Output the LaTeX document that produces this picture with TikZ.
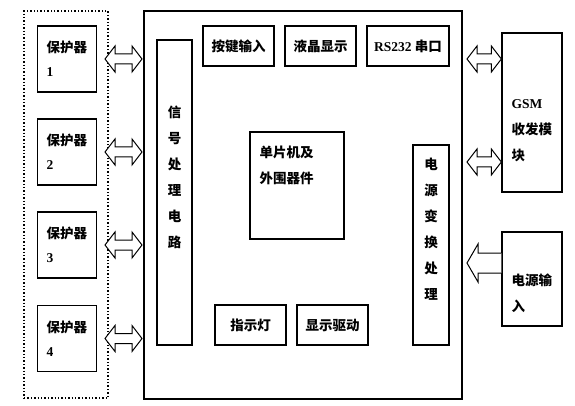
\documentclass[tikz,border=0pt]{standalone}
\usepackage{fontspec}
\setmainfont{Liberation Serif}
\newfontfamily\cjk{Noto Sans CJK SC}
\usetikzlibrary{calc, positioning}

% hollow double-headed arrow between two named points on one level
\newcommand\dblarrow[2]{%
  \draw[hollow] (#1) -- ++(10,-13) -- ++(0,8) -- ($(#2)+(-10,-5)$) -- ++(0,-8)
    -- (#2) -- ++(-10,13) -- ++(0,-8) -- ($(#1)+(10,5)$) -- ++(0,8) -- cycle;}

\begin{document}
\begin{tikzpicture}[
  x=1pt, y=-1pt,
  box/.style={draw, line width=1.3pt, inner sep=0pt, font=\fontsize{13.5pt}{15pt}\selectfont\bfseries\cjk},
  txt/.style={inner sep=0pt, align=left, font=\fontsize{13.5pt}{26pt}\selectfont\bfseries\cjk},
  grp/.style={draw, dotted, line width=1.4pt},
  hollow/.style={draw, line width=1pt, fill=white, line join=miter}
]
  \useasboundingbox (0,0) rectangle (575,406);

  % protector group
  \node[grp, minimum width=84, minimum height=387] (grp) at (66,204.5) {};
  \foreach \i/\y in {1/59,2/152,3/245,4/338.5} {
    \node[box, minimum width=59, minimum height=66, text width=41, align=left] (p\i) at (67,\y)
      {保护器\\[9pt]{\rmfamily\i}};
    \coordinate (la\i) at (105,\y);
    \coordinate (ra\i) at (142,\y);
    \dblarrow{la\i}{ra\i}
  }

  % main board
  \node[box, line width=1.9pt, minimum width=318, minimum height=388] (main) at (303,205) {};
  \node[box, minimum width=35, minimum height=305] (sig) at (174.5,192.5) {};
  \node[txt, align=center, below=66pt of sig.north] (sigtxt) {信\\号\\处\\理\\电\\路};

  \node[box, minimum width=71, minimum height=40] (key) at (238.5,46) {按键输入};
  \node[box, minimum width=71, minimum height=40] (lcd) at (320.5,46) {液晶显示};
  \node[box, minimum width=82, minimum height=40] (rs) at (408,46) {{\rmfamily RS232} 串口};

  \node[box, minimum width=94, minimum height=107] (mcu) at (297,185.5) {};
  \node[txt, anchor=north west] (mcutxt) at ($(mcu.north west)+(10,14)$) {单片机及\\外围器件};

  \node[box, minimum width=36, minimum height=200] (pwr) at (431,245) {};
  \node[txt, align=center, below=14pt of pwr.north] (pwrtxt) {电\\源\\变\\换\\处\\理};

  \node[box, minimum width=71, minimum height=40] (led) at (250.5,325) {指示灯};
  \node[box, minimum width=71, minimum height=40] (drv) at (332.5,325) {显示驱动};

  % outside modules
  \node[box, minimum width=60, minimum height=159] (gsm) at (532,112.5) {};
  \node[txt, anchor=north west] (gsmtxt) at ($(gsm.north west)+(10,67)$) {{\rmfamily GSM}\\收发模\\块};
  \node[box, minimum width=60, minimum height=94] (pin) at (532,279) {};
  \node[txt, anchor=north west] (pintxt) at ($(pin.north west)+(10,42)$) {电源输\\入};

  \coordinate (ga1) at (467,59);
  \coordinate (gb1) at (gsm.west |- ga1);
  \coordinate (ga2) at (467,162);
  \coordinate (gb2) at (gsm.west |- ga2);
  \dblarrow{ga1}{gb1}
  \dblarrow{ga2}{gb2}

  \coordinate (pa) at (467,263);
  \coordinate (pb) at (pin.west |- pa);
  \draw[hollow] ($(pb)+(0,-10)$) -- ($(pa)+(11,-10)$) -- ++(0,-9) -- (pa)
    -- ++(11,19) -- ++(0,-9) -- ($(pb)+(0,10)$);
\end{tikzpicture}
\end{document}
